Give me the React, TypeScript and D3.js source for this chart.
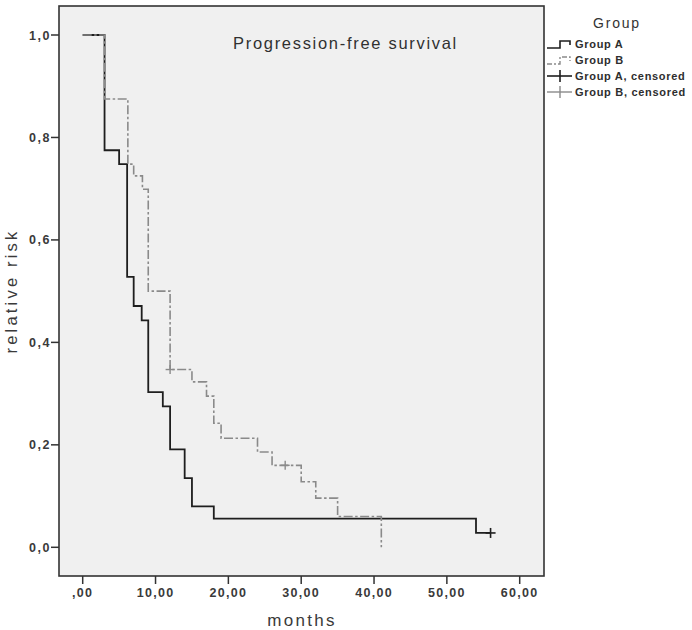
import React from "react";
import * as d3 from "d3";

const xTicks = [0, 10, 20, 30, 40, 50, 60];
const xTickLabels = [",00", "10,00", "20,00", "30,00", "40,00", "50,00", "60,00"];
const yTicks = [0, 0.2, 0.4, 0.6, 0.8, 1.0];
const yTickLabels = ["0,0", "0,2", "0,4", "0,6", "0,8", "1,0"];

const groupATimes = [0, 3, 5, 6.1, 7, 8.1, 9, 11, 12, 14, 15, 18, 54, 56];
const groupASurv = [1, 0.775, 0.748, 0.528, 0.471, 0.443, 0.303, 0.275, 0.191, 0.135, 0.08, 0.056, 0.028, 0.028];
const groupBTimes = [0, 3, 6.2, 7, 8.2, 9, 12, 15, 17, 18, 19, 24, 26, 30, 32, 35, 41];
const groupBSurv = [1, 0.875, 0.748, 0.725, 0.699, 0.5, 0.347, 0.323, 0.295, 0.242, 0.213, 0.186, 0.16, 0.128, 0.096, 0.06, 0];

const censorATimes = [56];
const censorASurv = [0.028];
const censorBTimes = [12, 27.8];
const censorBSurv = [0.347, 0.16];

const legendLabels = ["Group A", "Group B", "Group A, censored", "Group B, censored"];

const FONT = "'Liberation Sans', Arial, Helvetica, sans-serif";
const COL_A = "#1e1e1e";
const COL_B = "#8a8a8a";
const DASH_B = "9,2.5,2.5,2.5";
const TXT = "#3a3a3a";

export default function App() {
  const frame = { left: 59, top: 6, right: 544, bottom: 576 };
  const x = d3.scaleLinear().domain([0, 60]).range([82.7, 519.7]);
  const y = d3.scaleLinear().domain([0, 1]).range([547.3, 35]);

  const line = d3
    .line<[number, number]>()
    .x((d) => x(d[0]))
    .y((d) => y(d[1]))
    .curve(d3.curveStepAfter);

  const ptsA: [number, number][] = groupATimes.map((t, i) => [t, groupASurv[i]]);
  const ptsB: [number, number][] = groupBTimes.map((t, i) => [t, groupBSurv[i]]);

  const cross = (cx: number, cy: number, r: number, color: string, key: string, w = 1.5) => (
    <g key={key} stroke={color} strokeWidth={w}>
      <line x1={cx - r} x2={cx + r} y1={cy} y2={cy} />
      <line x1={cx} x2={cx} y1={cy - r} y2={cy + r} />
    </g>
  );

  const legX = 547;
  const legTextX = 575;
  const legY = [44, 60, 76, 92];

  return (
    <div style={{ position: "fixed", left: 0, top: 0, width: 692, height: 630, background: "#fff" }}>
      <svg width={692} height={630} style={{ display: "block" }}>
        <rect x={0} y={0} width={692} height={630} fill="#fff" />
        <rect
          x={frame.left}
          y={frame.top}
          width={frame.right - frame.left}
          height={frame.bottom - frame.top}
          fill="#f0f0f0"
        />
        <text x={233} y={49} fontFamily={FONT} fontSize={16.5} letterSpacing={1.7} fill="#303030">
          Progression-free survival
        </text>
        <path d={line(ptsA) || ""} fill="none" stroke={COL_A} strokeWidth={1.8} />
        <path d={line(ptsB) || ""} fill="none" stroke={COL_B} strokeWidth={1.6} strokeDasharray={DASH_B} />
        {censorATimes.map((t, i) => cross(x(t), y(censorASurv[i]), 5, COL_A, "ca" + i, 1.6))}
        {censorBTimes.map((t, i) => cross(x(t), y(censorBSurv[i]), 4.5, COL_B, "cb" + i, 1.4))}
        <rect
          x={frame.left}
          y={frame.top}
          width={frame.right - frame.left}
          height={frame.bottom - frame.top}
          fill="none"
          stroke="#333"
          strokeWidth={1.6}
        />
        {xTicks.map((t, i) => (
          <g key={"xt" + i}>
            <line x1={x(t)} x2={x(t)} y1={frame.bottom} y2={frame.bottom + 8} stroke="#333" strokeWidth={1.5} />
            <text
              x={x(t)}
              y={597}
              textAnchor="middle"
              fontFamily={FONT}
              fontSize={12.5}
              fontWeight="bold"
              letterSpacing={1.3}
              fill={TXT}
            >
              {xTickLabels[i]}
            </text>
          </g>
        ))}
        {yTicks.map((t, i) => (
          <g key={"yt" + i}>
            <line x1={frame.left - 8} x2={frame.left} y1={y(t)} y2={y(t)} stroke="#333" strokeWidth={1.5} />
            <text
              x={51}
              y={y(t) + 4.5}
              textAnchor="end"
              fontFamily={FONT}
              fontSize={12.5}
              fontWeight="bold"
              letterSpacing={1.5}
              fill={TXT}
            >
              {yTickLabels[i]}
            </text>
          </g>
        ))}
        <text
          x={302}
          y={626}
          textAnchor="middle"
          fontFamily={FONT}
          fontSize={17}
          letterSpacing={2.3}
          fill={TXT}
        >
          months
        </text>
        <text
          transform="translate(17,291) rotate(-90)"
          textAnchor="middle"
          fontFamily={FONT}
          fontSize={16.5}
          letterSpacing={3.2}
          fill={TXT}
        >
          relative risk
        </text>
        <text x={617} y={28} textAnchor="middle" fontFamily={FONT} fontSize={14} letterSpacing={1.8} fill="#333">
          Group
        </text>
        <path
          d={`M${legX},${legY[0] + 4}H${legX + 13}V${legY[0] - 3}H${legX + 23}V${legY[0] + 1}`}
          fill="none"
          stroke={COL_A}
          strokeWidth={1.6}
        />
        <path
          d={`M${legX},${legY[1] + 4}H${legX + 13}V${legY[1] - 3}H${legX + 23}V${legY[1] + 1}`}
          fill="none"
          stroke={COL_B}
          strokeWidth={1.4}
          strokeDasharray="5,2,2,2"
        />
        <line x1={legX} x2={legX + 25} y1={legY[2]} y2={legY[2]} stroke={COL_A} strokeWidth={1.6} />
        <line x1={legX + 13} x2={legX + 13} y1={legY[2] - 6} y2={legY[2] + 6} stroke={COL_A} strokeWidth={1.6} />
        <line x1={legX} x2={legX + 25} y1={legY[3]} y2={legY[3]} stroke={COL_B} strokeWidth={1.4} />
        <line x1={legX + 13} x2={legX + 13} y1={legY[3] - 6} y2={legY[3] + 6} stroke={COL_B} strokeWidth={1.4} />
        {legendLabels.map((l, i) => (
          <text
            key={"lg" + i}
            x={legTextX}
            y={legY[i] + 4}
            fontFamily={FONT}
            fontSize={11}
            fontWeight="bold"
            letterSpacing={0.7}
            fill="#2e2e2e"
          >
            {l}
          </text>
        ))}
      </svg>
    </div>
  );
}
